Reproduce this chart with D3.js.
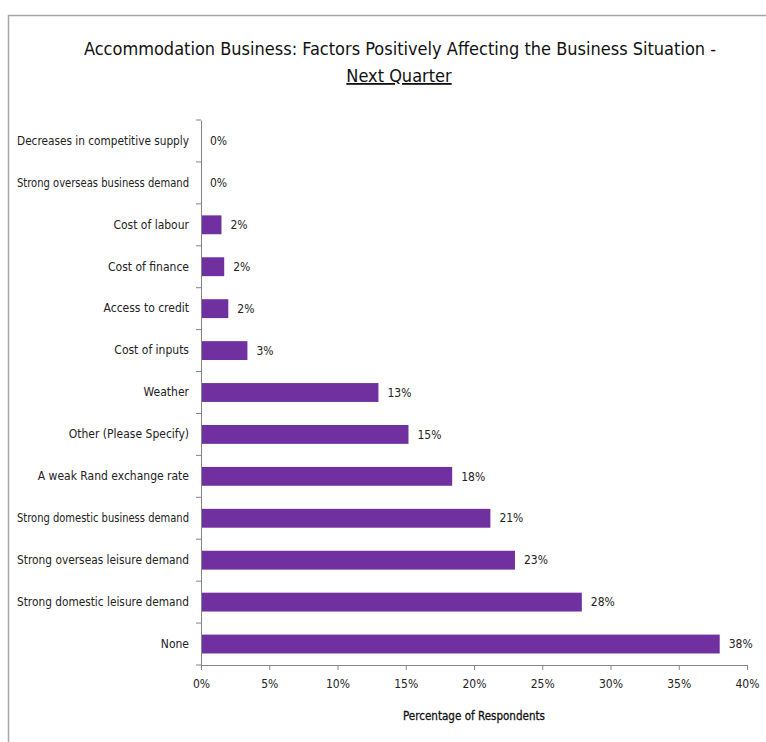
<!DOCTYPE html>
<html>
<head>
<meta charset="utf-8">
<script src="https://cdn.jsdelivr.net/npm/d3@7"></script>
<style>
  html, body { margin: 0; padding: 0; background: #fff; }
  svg { display: block; }
  text { font-family: "DejaVu Sans Condensed", "DejaVu Sans", sans-serif; font-stretch: condensed; }
</style>
</head>
<body>
<svg id="chart" width="766" height="742"></svg>
<script>
// Survey results: share of respondents citing each factor (percent)
const categories = [
  "Decreases in competitive supply",
  "Strong overseas business demand",
  "Cost of labour",
  "Cost of finance",
  "Access to credit",
  "Cost of inputs",
  "Weather",
  "Other (Please Specify)",
  "A weak Rand exchange rate",
  "Strong domestic business demand",
  "Strong overseas leisure demand",
  "Strong domestic leisure demand",
  "None"
];
const values = [0, 0, 1.5, 1.7, 2.0, 3.4, 13.0, 15.2, 18.4, 21.2, 23.0, 27.9, 38.0];
const xTicks = [0, 5, 10, 15, 20, 25, 30, 35, 40];

const titleLine1 = "Accommodation Business:  Factors Positively Affecting the Business Situation -";
const titleLine2 = "Next Quarter";
const xTitle = "Percentage of Respondents";

const svg = d3.select("#chart");

// chart frame (top and left edges)
svg.append("path")
  .attr("d", "M8.5,742 L8.5,15.5 L766,15.5")
  .attr("fill", "none")
  .attr("stroke", "#a6a6a6")
  .attr("stroke-width", 1.5);

const plot = { left: 201, right: 747, top: 120, bottom: 665 };

const x = d3.scaleLinear().domain([0, 40]).range([plot.left, plot.right]);
const y = d3.scaleBand().domain(categories).range([plot.top, plot.bottom])
  .paddingInner(0.55).paddingOuter(0.275);

// squeeze a text element horizontally if it runs wider than maxW
function fitWidth(sel, maxW) {
  sel.each(function () {
    const w = this.getComputedTextLength();
    if (w > maxW) {
      d3.select(this).attr("textLength", maxW).attr("lengthAdjust", "spacingAndGlyphs");
    }
  });
}

// title
svg.append("text")
  .attr("x", 400).attr("y", 55)
  .attr("text-anchor", "middle")
  .attr("font-size", 18)
  .attr("fill", "#111")
  .text(titleLine1);
svg.append("text")
  .attr("x", 399).attr("y", 82)
  .attr("text-anchor", "middle")
  .attr("font-size", 18)
  .attr("fill", "#111")
  .attr("text-decoration", "underline")
  .text(titleLine2);

// bars
svg.append("g").selectAll("rect")
  .data(values)
  .join("rect")
  .attr("x", x(0))
  .attr("y", (d, i) => y(categories[i]))
  .attr("width", d => x(d) - x(0))
  .attr("height", y.bandwidth())
  .attr("fill", "#7030a0");

// value labels
svg.append("g").selectAll("text")
  .data(values)
  .join("text")
  .attr("x", d => x(d) + 9)
  .attr("y", (d, i) => y(categories[i]) + y.bandwidth() / 2)
  .attr("dy", "0.35em")
  .attr("font-size", 12)
  .attr("fill", "#222")
  .text(d => Math.round(d) + "%");

// x axis
const xAxis = svg.append("g")
  .attr("transform", `translate(0,${plot.bottom})`)
  .call(d3.axisBottom(x).tickValues(xTicks).tickFormat(d => d + "%").tickSize(5).tickSizeOuter(0).tickPadding(9));
xAxis.select(".domain").attr("stroke", "#868686");
xAxis.selectAll(".tick line").attr("stroke", "#868686");
xAxis.selectAll(".tick text")
  .attr("font-size", 12)
  .attr("fill", "#222")
  .attr("font-family", null);

// y axis: ticks sit on band boundaries
const yAxis = svg.append("g")
  .attr("transform", `translate(${plot.left},0)`)
  .call(d3.axisLeft(y).tickSize(0).tickPadding(12));
yAxis.select(".domain").attr("stroke", "#868686");
yAxis.selectAll(".tick text")
  .attr("font-size", 12)
  .attr("fill", "#222")
  .attr("font-family", null)
  .call(fitWidth, 172);
const step = y.step();
const boundaries = d3.range(categories.length + 1).map(i => plot.top + i * step);
yAxis.selectAll("line.sep")
  .data(boundaries)
  .join("line")
  .attr("class", "sep")
  .attr("x1", -5).attr("x2", 0)
  .attr("y1", d => d).attr("y2", d => d)
  .attr("stroke", "#868686");

// x axis title
svg.append("text")
  .attr("x", 474).attr("y", 720)
  .attr("text-anchor", "middle")
  .attr("font-size", 12.5)
  .attr("fill", "#111")
  .attr("stroke", "#111")
  .attr("stroke-width", 0.3)
  .text(xTitle)
  .call(fitWidth, 142);
</script>
</body>
</html>
